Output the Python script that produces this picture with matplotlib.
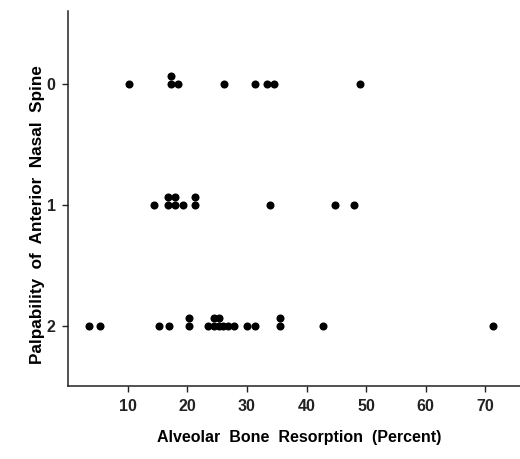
import matplotlib
matplotlib.use("Agg")
import matplotlib.pyplot as plt
from collections import Counter

# Alveolar bone resorption (percent) for each palpability score
resorption_0 = [10.3, 17.2, 17.2, 18.4, 26.1, 31.3, 33.3, 34.5, 48.9]
resorption_1 = [14.4, 16.7, 16.7, 18.0, 18.0, 19.2, 21.3, 21.3, 33.9, 44.8, 48.0]
resorption_2 = [3.6, 5.4, 15.3, 16.9, 20.3, 20.3, 23.5, 24.5, 24.5, 25.3, 25.3,
                26.0, 26.9, 27.9, 30.1, 31.4, 35.6, 35.6, 42.8, 71.2]
groups = [resorption_0, resorption_1, resorption_2]
y_ticks = [0, 1, 2]
x_ticks = [10, 20, 30, 40, 50, 60, 70]

plt.rcParams['font.family'] = ['Liberation Sans', 'DejaVu Sans']
plt.rcParams['font.weight'] = 'bold'

fig = plt.figure(figsize=(5.2, 4.59), dpi=100)
ax = fig.add_axes([0.1308, 0.159, 0.8692, 0.817])

# duplicates get stacked upward, like the original dot plot
for level, values in zip(y_ticks, groups):
    seen = Counter()
    xs, ys = [], []
    for v in values:
        xs.append(v)
        ys.append(level - 0.065 * seen[v])
        seen[v] += 1
    ax.plot(xs, ys, 'o', color='black', markersize=5.8, markeredgewidth=0)

ax.set_xlim(0, 75.8)
ax.set_ylim(2.5, -0.6)
ax.set_xticks(x_ticks)
ax.set_yticks(y_ticks)
ax.tick_params(labelsize=11.5, length=4, width=1, colors='#222222', pad=5)
for lab in ax.get_xticklabels() + ax.get_yticklabels():
    lab.set_fontweight('bold')

ax.spines['top'].set_visible(False)
ax.spines['right'].set_visible(False)
for s in ('left', 'bottom'):
    ax.spines[s].set_linewidth(1.1)
    ax.spines[s].set_color('#222222')

ax.set_xlabel("Alveolar  Bone  Resorption  (Percent)", fontsize=11.5,
              fontweight='bold')
ax.set_ylabel("Palpability  of  Anterior  Nasal  Spine", fontsize=12.3,
              fontweight='bold')
ax.xaxis.set_label_coords(0.511, -0.118)
ax.yaxis.set_label_coords(-0.051, 0.456)

plt.savefig("out.png", dpi=100)
